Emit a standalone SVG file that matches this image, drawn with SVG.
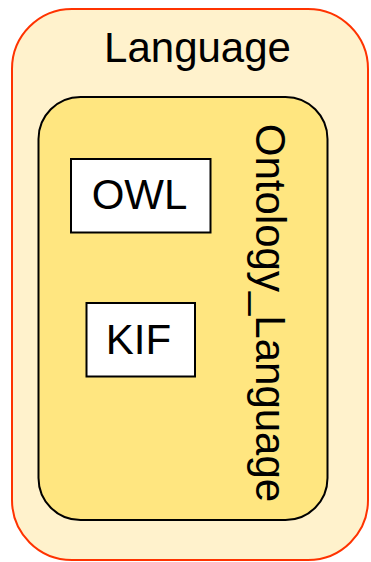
<svg xmlns="http://www.w3.org/2000/svg" width="371" height="562" viewBox="0 0 371 562">
<style>
text{font-family:"Liberation Sans",Arial,sans-serif;font-size:42px;fill:#000}
.box{fill:#fff;stroke:#000;stroke-width:2}
</style>
<g id="Language">
<rect x="12" y="9" width="356" height="551" rx="60" ry="60" fill="#FFF2CC" stroke="#FF3300" stroke-width="2"/>
<text x="197.5" y="62" text-anchor="middle">Language</text>
</g>
<g id="Ontology_Language">
<rect x="38.5" y="97" width="289" height="423" rx="42" ry="42" fill="#FFE680" stroke="#000" stroke-width="2"/>
<text transform="translate(256,313) rotate(90)" text-anchor="middle">Ontology_Language</text>
</g>
<g id="OWL">
<rect class="box" x="71" y="159" width="139.5" height="73.5"/>
<text x="139.5" y="209" text-anchor="middle">OWL</text>
</g>
<g id="KIF">
<rect class="box" x="86.5" y="303" width="108.5" height="73.5"/>
<text x="138.5" y="354" text-anchor="middle">KIF</text>
</g>
<g id="connectors"/>
</svg>
